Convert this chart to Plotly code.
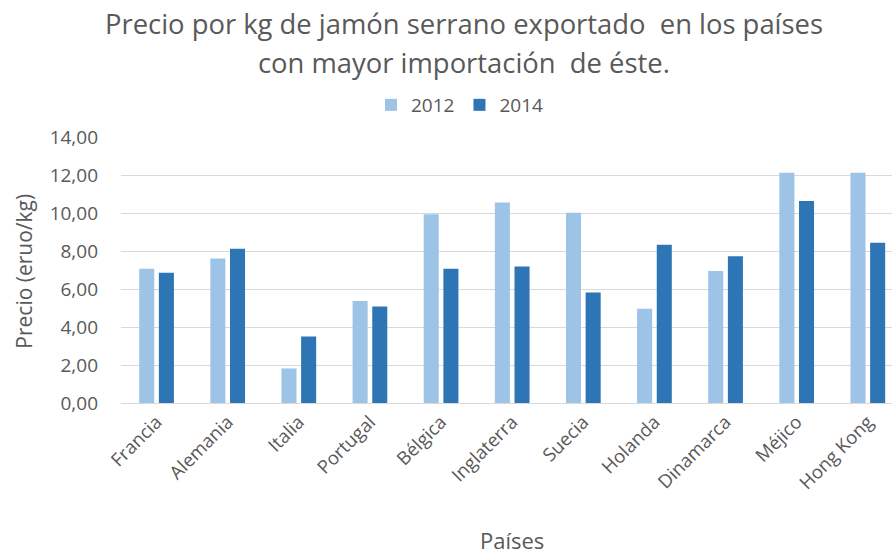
import plotly.graph_objects as go

# Countries and price per kg (euros) of exported serrano ham
paises = ["Francia", "Alemania", "Italia", "Portugal", "Bélgica", "Inglaterra",
          "Suecia", "Holanda", "Dinamarca", "Méjico", "Hong Kong"]
precio_2012 = [7.08, 7.62, 1.82, 5.38, 9.95, 10.56, 10.03, 4.97, 6.96, 12.13, 12.13]
precio_2014 = [6.87, 8.13, 3.50, 5.09, 7.08, 7.19, 5.82, 8.34, 7.73, 10.65, 8.44]
y_ticks = [0, 2, 4, 6, 8, 10, 12, 14]

titulo = ["Precio por kg de jamón serrano exportado  en los países",
          "con mayor importación  de éste."]

FONT = "'Open Sans', 'Noto Sans', sans-serif"
GRAY = "#595959"

fig = go.Figure()
fig.add_trace(go.Bar(name="2012", x=paises, y=precio_2012, marker_color="#9dc3e6",
                     marker_line_width=0))
fig.add_trace(go.Bar(name="2014", x=paises, y=precio_2014, marker_color="#2e75b6",
                     marker_line_width=0))

W, H = 892, 554
L, T, B = 121, 136, 151
PW, PH = W - L, H - T - B


def px_x(x):
    return (x - L) / PW


def px_y(y):
    return 1 + (T - y) / PH


fig.update_layout(
    width=W, height=H,
    margin=dict(l=L, r=0, t=T, b=B, pad=0),
    paper_bgcolor="white", plot_bgcolor="white",
    barmode="group", bargap=0.447, bargroupgap=0.235,
    separators=",.",
    font=dict(family=FONT, color=GRAY),
    legend=dict(
        orientation="h", xref="container", yref="container",
        x=460 / W, xanchor="center", y=1 - 105 / H, yanchor="middle",
        font=dict(family=FONT, size=19, color=GRAY),
        itemwidth=30, bgcolor="rgba(0,0,0,0)",
    ),
    xaxis=dict(
        range=[-0.5, 10.34], tickangle=-45,
        tickfont=dict(family=FONT, size=18.5, color=GRAY),
        showline=True, linecolor="#d9d9d9", linewidth=1,
        ticks="", showgrid=False,
    ),
    yaxis=dict(
        range=[0, 14], tickvals=y_ticks, tickformat=".2f",
        tickfont=dict(family=FONT, size=19, color=GRAY),
        showgrid=True, gridcolor="#d9d9d9", gridwidth=1,
        zeroline=False, showline=False, ticks="", ticklabelstandoff=22,
    ),
    annotations=[
        dict(text=titulo[0], xref="paper", yref="paper",
             x=px_x(464), y=px_y(22), xanchor="center", yanchor="middle",
             showarrow=False, font=dict(family=FONT, size=27.4, color=GRAY)),
        dict(text=titulo[1], xref="paper", yref="paper",
             x=px_x(464), y=px_y(61), xanchor="center", yanchor="middle",
             showarrow=False, font=dict(family=FONT, size=27.4, color=GRAY)),
        dict(text="Precio (eruo/kg)", textangle=-90, xref="paper", yref="paper",
             x=px_x(24), y=px_y(271), xanchor="center", yanchor="middle",
             showarrow=False, font=dict(family=FONT, size=21, color=GRAY)),
        dict(text="Países", xref="paper", yref="paper",
             x=px_x(512), y=px_y(541), xanchor="center", yanchor="middle",
             showarrow=False, font=dict(family=FONT, size=22, color=GRAY)),
    ],
)

fig.write_html("out.html")
